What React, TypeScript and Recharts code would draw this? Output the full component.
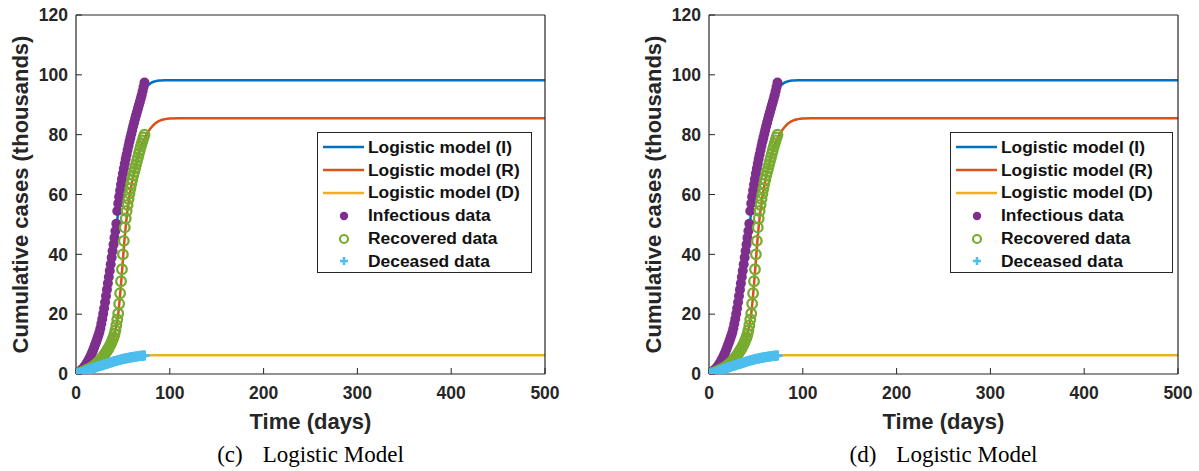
import { ComposedChart, Line, Scatter, XAxis, YAxis } from 'recharts';

// colours (MATLAB default order)
const C_I = '#0072BD';
const C_R = '#D95319';
const C_D = '#EDB120';
const C_INF = '#7E2F8E';
const C_REC = '#77AC30';
const C_DEC = '#4DBEEE';
const AXIS = '#262626';
const FONT = '"Liberation Sans", Arial, sans-serif';

const xTicks = [0, 100, 200, 300, 400, 500];
const yTicks = [0, 20, 40, 60, 80, 100, 120];

// logistic model curves (thousands), sampled at these days
const modelDays = [0, 5, 10, 15, 20, 25, 30, 35, 40, 45, 48, 50, 52, 55, 60, 65, 70, 75, 80, 85, 90, 95, 100, 110, 120, 150, 200, 300, 400, 500];
const modelI = [0.5, 1.2, 2.7, 5.3, 9.2, 14.2, 21.5, 31.5, 42.5, 54, 61, 65.5, 69.5, 74.5, 81.5, 87.5, 92.5, 95.8, 97.3, 97.9, 98.1, 98.2, 98.2, 98.2, 98.2, 98.2, 98.2, 98.2, 98.2, 98.2];
const modelR = [0.1, 0.3, 0.9, 1.7, 2.8, 4.3, 6.3, 8.8, 12.3, 20, 30, 38, 46, 55, 64.5, 71, 76.5, 80, 82.3, 83.9, 84.8, 85.2, 85.4, 85.5, 85.5, 85.5, 85.5, 85.5, 85.5, 85.5];
const modelD = [0, 0.5, 1.0, 1.6, 2.15, 2.65, 3.15, 3.65, 4.15, 4.6, 4.85, 5.0, 5.15, 5.35, 5.65, 5.9, 6.1, 6.22, 6.28, 6.3, 6.3, 6.3, 6.3, 6.3, 6.3, 6.3, 6.3, 6.3, 6.3, 6.3];

// observed data, one value per day starting at day 0 (thousands)
const infectious = [
  0.1, 0.3, 0.5, 0.7, 0.9, 1.1, 1.4, 1.7, 2.0, 2.4, 2.8, 3.3, 3.8, 4.4, 5.0, 5.6, 6.3, 7.0, 7.8, 8.6,
  9.5, 10.3, 11.2, 12.1, 13.0, 14.0, 15.3, 16.8, 18.4, 20.1, 22.0, 24.0, 26.1, 28.2, 30.3, 32.4, 34.5, 36.7, 38.9, 41.1,
  43.3, 45.5, 47.8, 50.2, 54.5, 57.0, 59.2, 61.3, 63.3, 65.2, 67.0, 68.7, 70.3, 71.9, 73.4, 74.9, 76.3, 77.7, 79.0, 80.3,
  81.6, 82.9, 84.1, 85.3, 86.5, 87.6, 88.7, 89.8, 90.9, 92.0, 93.2, 94.5, 95.9, 97.4,
];
const recovered = [
  0, 0.05, 0.1, 0.2, 0.3, 0.4, 0.5, 0.65, 0.8, 0.95, 1.1, 1.25, 1.4, 1.55, 1.7, 1.85, 2.0, 2.2, 2.4, 2.6,
  2.85, 3.1, 3.4, 3.7, 4.0, 4.3, 4.7, 5.1, 5.5, 5.9, 6.3, 6.8, 7.3, 7.8, 8.3, 8.8, 9.4, 10.0, 10.7, 11.5,
  12.3, 13.3, 14.6, 16.3, 18.2, 20.2, 23.5, 27, 31, 35, 40, 44.5, 49, 52, 54.5, 56.5, 58.5, 60.3, 62, 63.6,
  65, 66.4, 67.6, 68.8, 70, 71.2, 72.4, 73.6, 74.8, 76, 77.1, 78.1, 79.1, 80.0,
];
const deceased = [
  0, 0.05, 0.1, 0.2, 0.3, 0.4, 0.5, 0.6, 0.7, 0.85, 1.0, 1.1, 1.25, 1.35, 1.5, 1.6, 1.7, 1.8, 1.95, 2.05,
  2.15, 2.25, 2.35, 2.45, 2.55, 2.65, 2.75, 2.85, 2.95, 3.05, 3.15, 3.25, 3.35, 3.45, 3.55, 3.65, 3.75, 3.85, 3.95, 4.05,
  4.15, 4.25, 4.35, 4.45, 4.55, 4.62, 4.7, 4.78, 4.86, 4.94, 5.0, 5.07, 5.14, 5.2, 5.27, 5.33, 5.4, 5.46, 5.52, 5.58,
  5.63, 5.68, 5.73, 5.78, 5.83, 5.88, 5.93, 5.98, 6.02, 6.06, 6.1, 6.14, 6.18, 6.2,
];

const legendLabels = [
  'Logistic model (I)',
  'Logistic model (R)',
  'Logistic model (D)',
  'Infectious data',
  'Recovered data',
  'Deceased data',
];

const toModel = (vals: number[]) => modelDays.map((t, i) => ({ t, v: vals[i] }));
const toDaily = (vals: number[]) => vals.map((v, t) => ({ t, v }));

const tickStyle = { fontSize: 17.5, fontWeight: 'bold' as const, fill: AXIS, fontFamily: FONT };

const InfDot = (p: any) => <circle cx={p.cx} cy={p.cy} r={5} fill={C_INF} />;
const RecRing = (p: any) => <circle cx={p.cx} cy={p.cy} r={4.8} fill="none" stroke={C_REC} strokeWidth={2.3} />;
const DecPlus = (p: any) => (
  <path d={`M${p.cx - 5},${p.cy}h10M${p.cx},${p.cy - 5}v10`} stroke={C_DEC} strokeWidth={3} fill="none" />
);

function XLabel(props: any) {
  const vb = props.viewBox;
  return (
    <text x={vb.x + vb.width / 2} y={vb.y + 47} textAnchor="middle" dominantBaseline="central"
      style={{ fontSize: 22, fontWeight: 'bold', fontFamily: FONT, fill: AXIS }}>
      Time (days)
    </text>
  );
}

function YLabel(props: any) {
  const vb = props.viewBox;
  const cx = vb.x + 20;
  const cy = vb.y + vb.height / 2;
  return (
    <text x={cx} y={cy} transform={`rotate(-90 ${cx} ${cy})`} textAnchor="middle" dominantBaseline="central"
      style={{ fontSize: 22, fontWeight: 'bold', fontFamily: FONT, fill: AXIS }}>
      Cumulative cases (thousands)
    </text>
  );
}

function LegendGlyph({ i }: { i: number }) {
  const lines = [C_I, C_R, C_D];
  return (
    <svg width={46} height={22} style={{ display: 'block' }}>
      {i < 3 && <line x1={5} x2={47} y1={11} y2={11} stroke={lines[i]} strokeWidth={2.5} />}
      {i === 3 && <circle cx={26} cy={11} r={4.2} fill={C_INF} />}
      {i === 4 && <circle cx={26} cy={11} r={4} fill="none" stroke={C_REC} strokeWidth={2.2} />}
      {i === 5 && <path d="M22,11h8M26,7v8" stroke={C_DEC} strokeWidth={2.6} />}
    </svg>
  );
}

function Panel({ left, tag, legendWidth }: { left: number; tag: string; legendWidth: number }) {
  return (
    <div style={{ position: 'absolute', left, top: 0, width: 560, height: 471 }}>
      <ComposedChart width={560} height={440} margin={{ top: 14, right: 14, bottom: 0, left: 0 }}>
        <XAxis dataKey="t" type="number" domain={[0, 500]} ticks={xTicks} interval={0} height={66}
          allowDataOverflow tick={tickStyle} tickSize={-6} tickMargin={19}
          axisLine={{ stroke: AXIS, strokeWidth: 1.2 }} tickLine={{ stroke: AXIS }}
          label={<XLabel />} />
        <XAxis xAxisId="top" orientation="top" type="number" domain={[0, 500]} ticks={xTicks} interval={0}
          height={1} tick={false} tickSize={-6}
          axisLine={{ stroke: AXIS, strokeWidth: 1.2 }} tickLine={{ stroke: AXIS }} />
        <YAxis dataKey="v" type="number" domain={[0, 120]} ticks={yTicks} interval={0} width={76}
          allowDataOverflow tick={tickStyle} tickSize={-6} tickMargin={14}
          axisLine={{ stroke: AXIS, strokeWidth: 1.2 }} tickLine={{ stroke: AXIS }}
          label={<YLabel />} />
        <YAxis yAxisId="right" orientation="right" type="number" domain={[0, 120]} ticks={yTicks} interval={0}
          width={1} tick={false} tickSize={-6}
          axisLine={{ stroke: AXIS, strokeWidth: 1.2 }} tickLine={{ stroke: AXIS }} />

        <Line data={toModel(modelI)} dataKey="v" type="monotone" stroke={C_I} strokeWidth={2.5} dot={false} isAnimationActive={false} />
        <Line data={toModel(modelR)} dataKey="v" type="monotone" stroke={C_R} strokeWidth={2.5} dot={false} isAnimationActive={false} />
        <Line data={toModel(modelD)} dataKey="v" type="monotone" stroke={C_D} strokeWidth={2.5} dot={false} isAnimationActive={false} />
        <Scatter data={toDaily(infectious)} dataKey="v" shape={InfDot} isAnimationActive={false} />
        <Scatter data={toDaily(recovered)} dataKey="v" shape={RecRing} isAnimationActive={false} />
        <Scatter data={toDaily(deceased)} dataKey="v" shape={DecPlus} isAnimationActive={false} />
      </ComposedChart>

      <div style={{
        position: 'absolute', left: 317, top: 132, width: legendWidth, height: 141, boxSizing: 'border-box',
        border: `1px solid ${AXIS}`, background: '#fff', paddingTop: 3,
      }}>
        {legendLabels.map((lab, i) => (
          <div key={lab} style={{ display: 'flex', alignItems: 'center', height: 22.8 }}>
            <LegendGlyph i={i} />
            <span style={{ marginLeft: 4, fontFamily: FONT, fontWeight: 'bold', fontSize: 17.4, color: '#111', whiteSpace: 'nowrap' }}>
              {lab}
            </span>
          </div>
        ))}
      </div>

      <div style={{
        position: 'absolute', left: 76, top: 441, width: 469, textAlign: 'center',
        fontFamily: '"Liberation Serif", "Times New Roman", serif', fontSize: 23, lineHeight: '28px', color: '#000',
      }}>
        <span style={{ marginRight: 20 }}>({tag})</span>Logistic Model
      </div>
    </div>
  );
}

export default function App() {
  return (
    <div style={{ position: 'absolute', left: 0, top: 0, width: 1199, height: 471, background: '#fff' }}>
      <Panel left={0} tag="c" legendWidth={215} />
      <Panel left={633} tag="d" legendWidth={223} />
    </div>
  );
}
